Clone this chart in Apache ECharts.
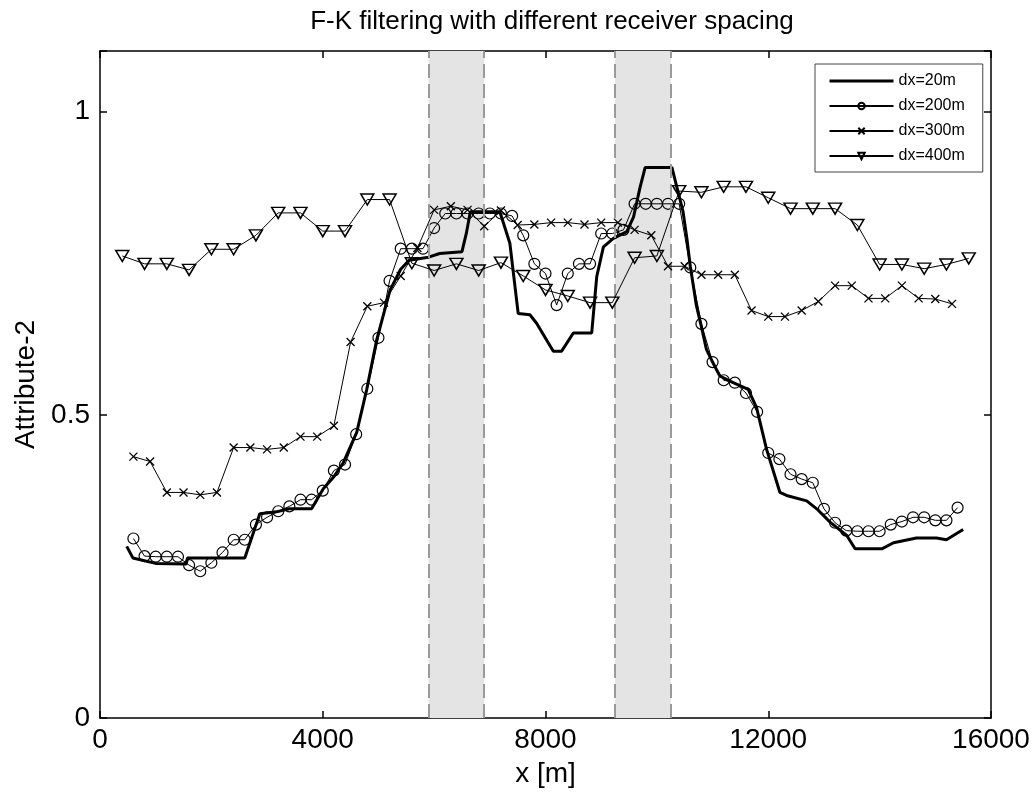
<!DOCTYPE html>
<html><head><meta charset="utf-8">
<script src="https://cdn.jsdelivr.net/npm/echarts@6/dist/echarts.min.js"></script>
<style>html,body{margin:0;padding:0;background:#fff}#c{width:1036px;height:793px}</style>
</head><body><div id="c"></div>
<script>
const titleText = 'F-K filtering with different receiver spacing';
const xName = 'x [m]';
const yName = 'Attribute-2';
const xTicks = [0, 4000, 8000, 12000, 16000];
const yTicks = [0, 0.5, 1];
const bands = [[5900, 6900], [9250, 10250]];
const seriesNames = ['dx=20m', 'dx=200m', 'dx=300m', 'dx=400m'];

const x20 = [480,590,1000,1550,1570,2600,2870,3170,3400,3800,4010,4200,4370,4610,4790,4970,5210,5400,5550,5900,6100,6500,6580,6650,7180,7360,7510,7720,7840,8140,8290,8500,8830,8920,9040,9220,9460,9580,9700,9790,10270,10360,10470,10540,10600,10710,10800,10890,11000,11130,11370,11640,11790,11970,12210,12330,12690,12870,13110,13410,13560,14040,14250,14660,15020,15200,15500];
const y20 = [0.283,0.264,0.255,0.254,0.264,0.264,0.337,0.340,0.345,0.345,0.378,0.398,0.421,0.471,0.542,0.624,0.706,0.740,0.755,0.760,0.766,0.769,0.800,0.835,0.835,0.783,0.667,0.665,0.651,0.605,0.605,0.635,0.635,0.728,0.777,0.791,0.802,0.826,0.876,0.908,0.908,0.875,0.835,0.790,0.745,0.680,0.645,0.608,0.587,0.564,0.553,0.542,0.512,0.443,0.372,0.367,0.358,0.345,0.323,0.301,0.279,0.279,0.289,0.297,0.297,0.294,0.311];

const x200 = [600,800,1000,1200,1400,1600,1800,2000,2200,2400,2600,2800,3000,3200,3400,3600,3800,4000,4200,4400,4600,4800,5000,5200,5400,5600,5800,6000,6200,6400,6600,6800,7000,7200,7400,7600,7800,8000,8200,8400,8600,8800,9000,9200,9400,9600,9800,10000,10200,10400,10600,10800,11000,11200,11400,11600,11800,12000,12200,12400,12600,12800,13000,13200,13400,13600,13800,14000,14200,14400,14600,14800,15000,15200,15400];
const y200 = [0.296,0.267,0.266,0.266,0.266,0.252,0.242,0.256,0.273,0.294,0.294,0.319,0.331,0.341,0.349,0.360,0.360,0.375,0.408,0.418,0.468,0.543,0.627,0.721,0.774,0.774,0.774,0.808,0.832,0.832,0.832,0.832,0.832,0.832,0.828,0.796,0.749,0.733,0.681,0.733,0.749,0.749,0.799,0.799,0.805,0.848,0.848,0.848,0.848,0.848,0.743,0.650,0.587,0.557,0.553,0.536,0.505,0.437,0.427,0.402,0.394,0.388,0.345,0.322,0.309,0.308,0.308,0.308,0.319,0.324,0.331,0.331,0.326,0.326,0.347];

const x300 = [600,900,1200,1500,1800,2100,2400,2700,3000,3300,3600,3900,4200,4500,4800,5100,5400,5700,6000,6300,6600,6900,7200,7500,7800,8100,8400,8700,9000,9300,9600,9900,10200,10500,10800,11100,11400,11700,12000,12300,12600,12900,13200,13500,13800,14100,14400,14700,15000,15300];
const y300 = [0.431,0.423,0.372,0.372,0.368,0.372,0.446,0.446,0.443,0.446,0.464,0.464,0.482,0.620,0.679,0.685,0.729,0.775,0.838,0.844,0.838,0.811,0.837,0.813,0.814,0.817,0.817,0.814,0.817,0.817,0.805,0.796,0.745,0.745,0.731,0.731,0.731,0.672,0.662,0.662,0.672,0.687,0.713,0.713,0.692,0.692,0.713,0.692,0.691,0.683];

const x400 = [400,800,1200,1600,2000,2400,2800,3200,3600,4000,4400,4800,5200,5600,6000,6400,6800,7200,7600,8000,8400,8800,9200,9600,10000,10400,10800,11200,11600,12000,12400,12800,13200,13600,14000,14400,14800,15200,15600];
const y400 = [0.762,0.749,0.749,0.739,0.773,0.773,0.796,0.833,0.833,0.803,0.803,0.855,0.855,0.750,0.738,0.749,0.738,0.751,0.729,0.706,0.696,0.685,0.685,0.759,0.762,0.869,0.867,0.876,0.876,0.858,0.840,0.840,0.840,0.813,0.748,0.748,0.741,0.748,0.758];

const zip = (xs, ys) => xs.map((x, i) => [x, ys[i]]);
const FONT = 'Liberation Sans, Arial, sans-serif';
const xMin = xTicks[0], xMax = xTicks[xTicks.length - 1], xStep = xTicks[1] - xTicks[0];
const yMin = yTicks[0], yStep = yTicks[1] - yTicks[0], yMax = 1.1;
const isTick = (v, arr) => arr.some(t => Math.abs(t - v) < 1e-9);

const axisBase = {
  type: 'value', splitLine: {show: false},
  axisLine: {show: true, onZero: false, lineStyle: {color: '#000', width: 1.5}},
  axisTick: {show: true, inside: true, length: 7, lineStyle: {color: '#000', width: 1.5}}
};

const chart = echarts.init(document.getElementById('c'), null, {renderer: 'canvas'});
chart.setOption({
  animation: false,
  backgroundColor: '#fff',
  title: {text: titleText, left: 547, top: 4, textAlign: 'center',
    textStyle: {fontFamily: FONT, fontSize: 26, fontWeight: 'normal', color: '#000'}},
  grid: {left: 100, right: 45, top: 51, bottom: 73, containLabel: false},
  legend: {
    orient: 'vertical', left: 815, top: 64,
    data: [
      {name: seriesNames[0], itemStyle: {opacity: 0}, lineStyle: {width: 3}},
      {name: seriesNames[1]},
      {name: seriesNames[2]},
      {name: seriesNames[3]}
    ],
    padding: [9, 18, 8, 13], itemGap: 9, itemWidth: 64, itemHeight: 8,
    borderColor: '#444', borderWidth: 1, backgroundColor: '#fff',
    textStyle: {fontFamily: FONT, fontSize: 16, color: '#000'}
  },
  xAxis: [
    Object.assign({}, axisBase, {position: 'bottom', min: xMin, max: xMax, interval: xStep,
      name: xName, nameLocation: 'middle', nameGap: 42,
      nameTextStyle: {fontFamily: FONT, fontSize: 28, color: '#000'},
      axisLabel: {fontFamily: FONT, fontSize: 28, color: '#000', margin: 8,
        formatter: v => isTick(v, xTicks) ? String(v) : ''}}),
    Object.assign({}, axisBase, {position: 'top', min: xMin, max: xMax, interval: xStep,
      axisLabel: {show: false}})
  ],
  yAxis: [
    Object.assign({}, axisBase, {position: 'left', min: yMin, max: yMax, interval: yStep,
      name: yName, nameLocation: 'middle', nameGap: 56,
      nameTextStyle: {fontFamily: FONT, fontSize: 28, color: '#000'},
      axisLabel: {fontFamily: FONT, fontSize: 28, color: '#000', margin: 10,
        formatter: v => isTick(v, yTicks) ? String(v) : ''}}),
    Object.assign({}, axisBase, {position: 'right', min: yMin, max: yMax, interval: yStep,
      axisLabel: {show: false}})
  ],
  series: [
    {
      type: 'line', data: [], z: 1, silent: true,
      markArea: {silent: true, itemStyle: {color: '#e4e4e4'},
        data: bands.map(b => [{xAxis: b[0]}, {xAxis: b[1]}])},
      markLine: {silent: true, symbol: ['none', 'none'], label: {show: false},
        lineStyle: {color: '#9a9a9a', width: 2, type: [14, 6]},
        data: bands.flat().map(v => ({xAxis: v}))}
    },
    {
      name: seriesNames[0], type: 'line', z: 3, data: zip(x20, y20),
      showSymbol: false, symbol: 'none',
      lineStyle: {color: '#000', width: 3}, itemStyle: {color: '#000'}
    },
    {
      name: seriesNames[1], type: 'line', z: 4, data: zip(x200, y200),
      symbol: 'circle', symbolSize: 11,
      lineStyle: {color: '#000', width: 1},
      itemStyle: {color: 'rgba(255,255,255,0)', borderColor: '#000', borderWidth: 1.2}
    },
    {
      name: seriesNames[2], type: 'line', z: 5, data: zip(x300, y300),
      symbol: 'path://M0 0L10 10M10 0L0 10', symbolSize: 8,
      lineStyle: {color: '#000', width: 1},
      itemStyle: {color: 'rgba(255,255,255,0)', borderColor: '#000', borderWidth: 1.3}
    },
    {
      name: seriesNames[3], type: 'line', z: 6, data: zip(x400, y400),
      symbol: 'triangle', symbolRotate: 180, symbolSize: [13, 11],
      lineStyle: {color: '#000', width: 1},
      itemStyle: {color: 'rgba(255,255,255,0)', borderColor: '#000', borderWidth: 1.5}
    }
  ]
});
</script></body></html>
